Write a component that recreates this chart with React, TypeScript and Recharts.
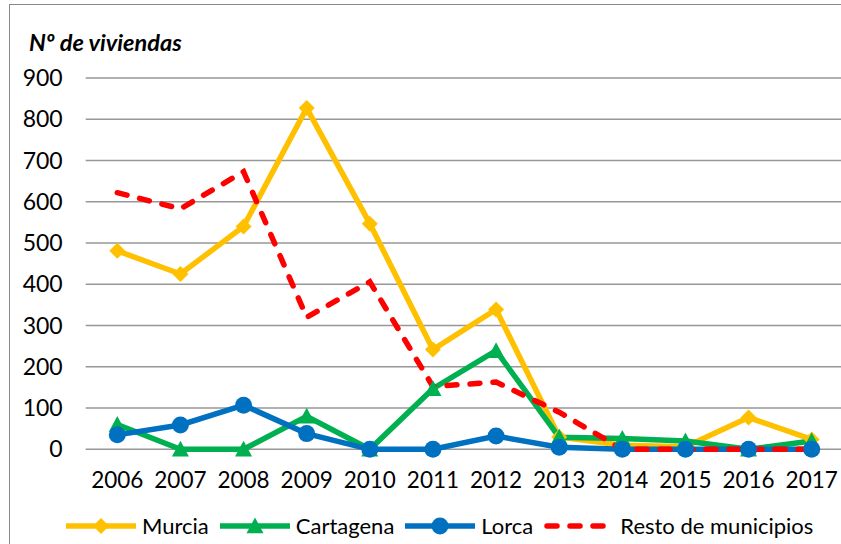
import React from "react";
import { LineChart, Line, XAxis, YAxis, CartesianGrid } from "recharts";

// Viviendas por municipio (2006-2017)

const years = ["2006", "2007", "2008", "2009", "2010", "2011", "2012", "2013", "2014", "2015", "2016", "2017"];
const murcia = [481, 425, 540, 827, 547, 242, 339, 30, 10, 6, 77, 24];
const cartagena = [60, 0, 0, 80, 0, 147, 239, 29, 26, 20, 0, 20];
const lorca = [35, 59, 107, 38, 0, 0, 32, 5, 0, 0, 0, 0];
const resto = [622, 583, 673, 320, 406, 152, 163, 90, 0, 0, 0, 0];
const yTicks = [0, 100, 200, 300, 400, 500, 600, 700, 800, 900];

const FONT = "Lato, 'Open Sans', sans-serif";
const C_MURCIA = "#FFC000";
const C_CARTAGENA = "#00B050";
const C_LORCA = "#0070C0";
const C_RESTO = "#FF0000";

const data = years.map((y, i) => ({
  year: y,
  murcia: murcia[i],
  cartagena: cartagena[i],
  lorca: lorca[i],
  resto: resto[i],
}));

type Shape = "diamond" | "triangle" | "circle" | "none";

function marker(shape: Shape, cx: number, cy: number, color: string, key?: any) {
  if (shape === "diamond") {
    const s = 8;
    return <polygon key={key} points={`${cx},${cy - s} ${cx + s},${cy} ${cx},${cy + s} ${cx - s},${cy}`} fill={color} />;
  }
  if (shape === "triangle") {
    const s = 8.5;
    return <polygon key={key} points={`${cx},${cy - s} ${cx + s},${cy + s * 0.85} ${cx - s},${cy + s * 0.85}`} fill={color} />;
  }
  if (shape === "circle") {
    return <circle key={key} cx={cx} cy={cy} r={8.5} fill={color} />;
  }
  return null;
}

const dotFor = (shape: Shape, color: string) => (props: any) => {
  const { cx, cy, index } = props;
  if (cx == null || cy == null) return <g key={index} />;
  return marker(shape, cx, cy, color, index);
};

const series: { key: string; name: string; color: string; shape: Shape; dash?: string }[] = [
  { key: "murcia", name: "Murcia", color: C_MURCIA, shape: "diamond" },
  { key: "cartagena", name: "Cartagena", color: C_CARTAGENA, shape: "triangle" },
  { key: "lorca", name: "Lorca", color: C_LORCA, shape: "circle" },
  { key: "resto", name: "Resto de municipios", color: C_RESTO, shape: "none", dash: "10 13" },
];

function LegendRow() {
  return (
    <div style={{ position: "absolute", left: 66, top: 512, display: "flex", alignItems: "center", fontFamily: FONT, fontSize: 22, color: "#000", whiteSpace: "nowrap" }}>
      {series.map((s) => (
        <div key={s.key} style={{ display: "flex", alignItems: "center", marginRight: 11 }}>
          <svg width={70} height={24}>
            <line x1={s.dash ? 3 : 0} y1={12} x2={s.dash ? 67 : 70} y2={12} stroke={s.color} strokeWidth={5.5} strokeDasharray={s.dash} strokeLinecap={s.dash ? "round" : "butt"} />
            {marker(s.shape, 35, 12, s.color)}
          </svg>
          <span style={{ marginLeft: 6 }}>{s.name}</span>
        </div>
      ))}
    </div>
  );
}

export default function App() {
  return (
    <div style={{ position: "absolute", left: 0, top: 0, width: 841, height: 544, overflow: "hidden", background: "#fff" }}>
      <div style={{ position: "absolute", left: 9, top: 4, width: 900, height: 600, border: "1.5px solid #8a8a8a" }} />
      <svg style={{ position: "absolute", left: 0, top: 0 }} width={300} height={60}>
        <text x={29} y={51} fontFamily={FONT} fontSize={23.5} fontWeight="bold" fontStyle="italic" fill="#000">
          Nº de viviendas
        </text>
      </svg>
      <LineChart
        width={850}
        height={544}
        data={data}
        margin={{ top: 78, right: 6.7, bottom: 64.7, left: 0 }}
        style={{ position: "absolute", left: 0, top: 0 }}
      >
        <CartesianGrid vertical={false} stroke="#979797" strokeWidth={1.5} />
        <XAxis
          dataKey="year"
          axisLine={false}
          tickLine={false}
          tickSize={0}
          tickMargin={23}
          interval={0}
          padding={{ left: 31.6, right: 31.6 }}
          tick={{ fill: "#000", fontSize: 22.5, fontFamily: FONT }}
        />
        <YAxis
          width={85.7}
          domain={[0, 900]}
          ticks={yTicks}
          axisLine={false}
          tickLine={false}
          tickSize={0}
          tickMargin={23}
          tick={{ fill: "#000", fontSize: 23, fontFamily: FONT }}
        />
        {series.map((s) => (
          <Line
            key={s.key}
            type="linear"
            dataKey={s.key}
            name={s.name}
            stroke={s.color}
            strokeWidth={5.5}
            strokeDasharray={s.dash}
            strokeLinecap={s.dash ? "round" : "butt"}
            dot={s.shape === "none" ? false : dotFor(s.shape, s.color)}
            activeDot={false}
            isAnimationActive={false}
          />
        ))}
      </LineChart>
      <LegendRow />
    </div>
  );
}
